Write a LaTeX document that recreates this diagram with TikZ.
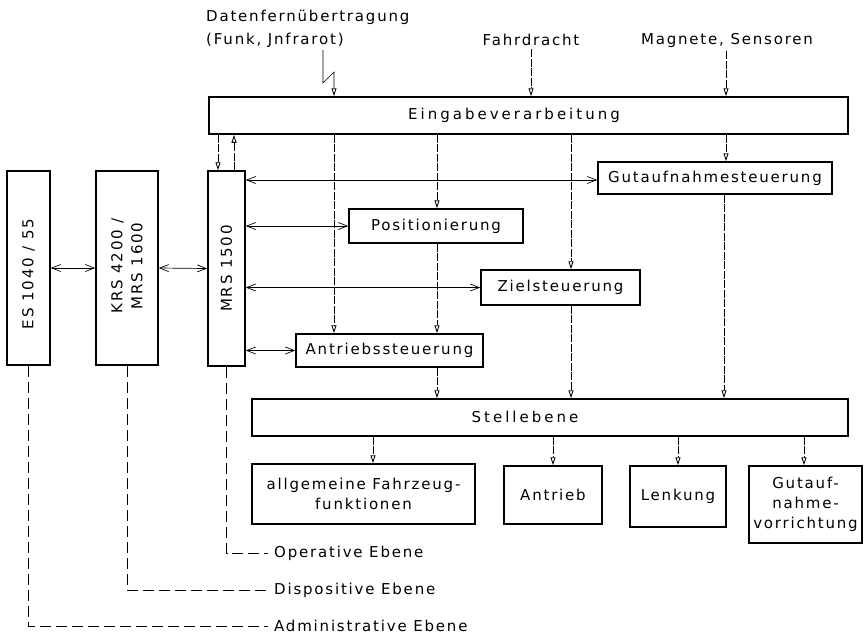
\documentclass[tikz,border=0pt]{standalone}
\usepackage{fontspec}
\setmainfont{DejaVu Sans}[LetterSpace=12]
\newfontfamily\widefont{DejaVu Sans}[LetterSpace=20]
\usetikzlibrary{arrows.meta}
\tikzset{
  box/.style={draw, line width=1.5pt, inner sep=0pt},
  txt/.style={inner sep=0pt, align=center},
  vtip/.style={-{Triangle[open,length=8pt,width=5pt,line width=0.9pt]}},
  varr/.style={line width=0.6pt, dash pattern=on 8pt off 1.5pt, vtip},
  harr/.style={line width=0.7pt, {Straight Barb[length=9pt,width=7pt]}-{Straight Barb[length=9pt,width=7pt]}},
  leg/.style={line width=0.6pt, dash pattern=on 11pt off 5pt},
}
\begin{document}
\begin{tikzpicture}[x=1pt, y=-1pt, font=\fontsize{15}{20}\selectfont]
\useasboundingbox (0,0) rectangle (864,635);
% boxes
\node[box, minimum width=639pt, minimum height=37pt] (ein) at (528.5,115.5) {};
\node[txt] (eint) at (514,115) {\widefont Eingabeverarbeitung};
\node[box, minimum width=43pt, minimum height=194pt] (es) at (28.5,268) {};
\node[txt, rotate=90] (est) at (28.5,274) {ES 1040 / 55};
\node[box, minimum width=62pt, minimum height=194pt] (krs) at (127,268) {};
\node[txt, rotate=90] (krst) at (127,266) {KRS 4200 /\\MRS 1600};
\node[box, minimum width=37pt, minimum height=195pt] (mrs) at (226.5,268.5) {};
\node[txt, rotate=90] (mrst) at (226.5,268.5) {MRS 1500};
\node[box, minimum width=234pt, minimum height=32pt] (gut) at (715,178) {Gutaufnahmesteuerung};
\node[box, minimum width=174pt, minimum height=34pt] (pos) at (436,226) {Positionierung};
\node[box, minimum width=159pt, minimum height=35pt] (ziel) at (560.5,287.5) {Zielsteuerung};
\node[box, minimum width=187pt, minimum height=33pt] (antst) at (389.5,350.5) {Antriebssteuerung};
\node[box, minimum width=596pt, minimum height=37pt] (stell) at (550,417.5) {};
\node[txt] (stellt) at (525,417) {\widefont Stellebene};
\node[box, minimum width=223pt, minimum height=60pt, align=center] (allg) at (363.5,494) {allgemeine Fahrzeug-\\funktionen};
\node[box, minimum width=98pt, minimum height=58pt] (antr) at (553,495) {Antrieb};
\node[box, minimum width=96pt, minimum height=61pt] (lenk) at (678,496.5) {Lenkung};
\node[box, minimum width=113pt, minimum height=77pt, align=center] (gvor) at (805.5,504.5) {Gutauf-\\nahme-\\vorrichtung};
% top labels
\node[txt, anchor=west] (dfu1) at (206,17) {Datenfernübertragung};
\node[txt, anchor=west] (dfu2) at (206,40) {(Funk, Jnfrarot)};
\node[txt] (fd) at (531,40) {Fahrdracht};
\node[txt] (mag) at (727,40) {Magnete, Sensoren};
% helper x coordinates
\coordinate (c218) at (218,0);
\coordinate (c234) at (234,0);
\coordinate (c334) at (334,0);
\coordinate (c437) at (437,0);
\coordinate (c571) at (571,0);
\coordinate (c726) at (726,0);
\coordinate (c724) at (724,0);
\coordinate (c373) at (373,0);
\coordinate (c553) at (553,0);
\coordinate (c678) at (678,0);
\coordinate (c804) at (804,0);
% inputs
\coordinate (l0) at (323,50);
\coordinate (l1) at (323,83);
\coordinate (l2) at (334,72);
\draw[line width=0.6pt, vtip] (l0) -- (l1) -- (l2) -- (ein.north -| c334);
\draw[varr] (fd.south) ++(0,3) -- (ein.north -| fd.south);
\draw[varr] (mag.south) ++(-1,4) -- (ein.north -| c726);
% Eingabe <-> MRS
\draw[varr] (ein.south -| c218) -- (mrs.north -| c218);
\draw[varr] (mrs.north -| c234) -- (ein.south -| c234);
% Eingabe down
\draw[varr] (ein.south -| c334) -- (antst.north -| c334);
\draw[varr] (ein.south -| c437) -- (pos.north -| c437);
\draw[varr] (pos.south -| c437) -- (antst.north -| c437);
\draw[varr] (ein.south -| c571) -- (ziel.north -| c571);
\draw[varr] (ziel.south -| c571) -- (stell.north -| c571);
\draw[varr] (ein.south -| c726) -- (gut.north -| c726);
\draw[varr] (gut.south -| c724) -- (stell.north -| c724);
\draw[varr] (antst.south -| c437) -- (stell.north -| c437);
% Stellebene down
\draw[varr] (stell.south -| c373) -- (allg.north -| c373);
\draw[varr] (stell.south -| c553) -- (antr.north -| c553);
\draw[varr] (stell.south -| c678) -- (lenk.north -| c678);
\draw[varr] (stell.south -| c804) -- (gvor.north -| c804);
% horizontal double arrows
\draw[harr] (es.east) -- (krs.west);
\draw[harr] (krs.east) -- (mrs.west);
\draw[harr] (mrs.east |- gut.west) ++(0,2) -- ([yshift=-2pt]gut.west);
\draw[harr] (mrs.east |- pos.west) -- (pos.west);
\draw[harr] (mrs.east |- ziel.west) -- (ziel.west);
\draw[harr] (mrs.east |- antst.west) -- (antst.west);
% legend
\coordinate (o1) at (226.5,553);
\coordinate (o2) at (127,590);
\coordinate (o3) at (28.5,626);
\node[txt, anchor=west] (opt) at (274,553) {Operative Ebene};
\node[txt, anchor=west] (dist) at (274,590) {Dispositive Ebene};
\node[txt, anchor=west] (admt) at (274,626) {Administrative Ebene};
\draw[leg] (mrs.south) -- (o1) -- ([xshift=-6pt]opt.west |- o1);
\draw[leg] (krs.south) -- (o2) -- ([xshift=-6pt]dist.west |- o2);
\draw[leg] (es.south) -- (o3) -- ([xshift=-6pt]admt.west |- o3);
\end{tikzpicture}
\end{document}
